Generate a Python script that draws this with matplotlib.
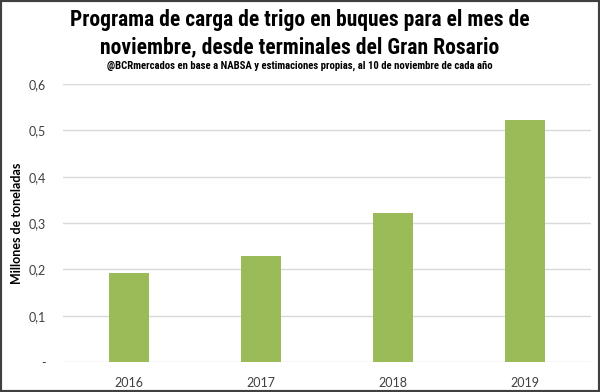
import matplotlib.pyplot as plt
from matplotlib import font_manager
from matplotlib.patches import Rectangle

years = ['2016', '2017', '2018', '2019']
values = [0.192, 0.229, 0.322, 0.522]
y_ticks = [0, 0.1, 0.2, 0.3, 0.4, 0.5, 0.6]
y_tick_labels = ['-', '0,1', '0,2', '0,3', '0,4', '0,5', '0,6']

# pick a narrow face for the title if one is installed
names = {f.name for f in font_manager.fontManager.ttflist}
narrow = 'DejaVu Sans'
for cand in ['Liberation Sans Narrow', 'DejaVu Sans Condensed', 'Roboto Condensed',
             'Open Sans Condensed', 'Noto Sans Condensed', 'Roboto']:
    if cand in names:
        narrow = cand
        break

plt.rcParams['font.family'] = ['Lato', 'DejaVu Sans']

fig = plt.figure(figsize=(6, 3.92), dpi=100)
ax = fig.add_axes([63 / 600, 1 - 362 / 392, 528 / 600, 278 / 392])

ax.bar(range(len(years)), values, width=0.31, color='#9bbb59', zorder=3)
ax.set_xlim(-0.5, 3.5)
ax.set_ylim(0, 0.6)
ax.set_yticks(y_ticks)
ax.set_yticklabels(y_tick_labels)
ax.set_xticks(range(len(years)))
ax.set_xticklabels(years)
ax.grid(axis='y', color='#d9d9d9', linewidth=1, zorder=0)
for s in ax.spines.values():
    s.set_visible(False)
ax.tick_params(length=0, labelsize=9, labelcolor='#404040')
ax.tick_params(axis='x', pad=11)
ax.tick_params(axis='y', pad=12)
ax.set_ylabel('Millones de toneladas', fontsize=9, fontweight='bold')
ax.yaxis.set_label_coords(-0.076, 0.5)


def fit_text(y, s, width_px, size):
    t = fig.text(0.5, 1 - y / 392, s, ha='center', va='center', fontsize=size,
                 fontweight='bold', family=narrow)
    r = fig.canvas.get_renderer()
    w = t.get_window_extent(r).width
    t.set_fontsize(size * width_px / w)
    return t


fit_text(20, 'Programa de carga de trigo en buques para el mes de', 460, 16)
fit_text(47, 'noviembre, desde terminales del Gran Rosario', 398, 16)
fit_text(66, '@BCRmercados en base a NABSA y estimaciones propias, al 10 de noviembre de cada año',
         392, 8)

fig.patches.append(Rectangle((0, 0), 1, 1, transform=fig.transFigure, fill=False,
                             edgecolor='#404040', linewidth=3))

fig.savefig('out.png', dpi=100)
